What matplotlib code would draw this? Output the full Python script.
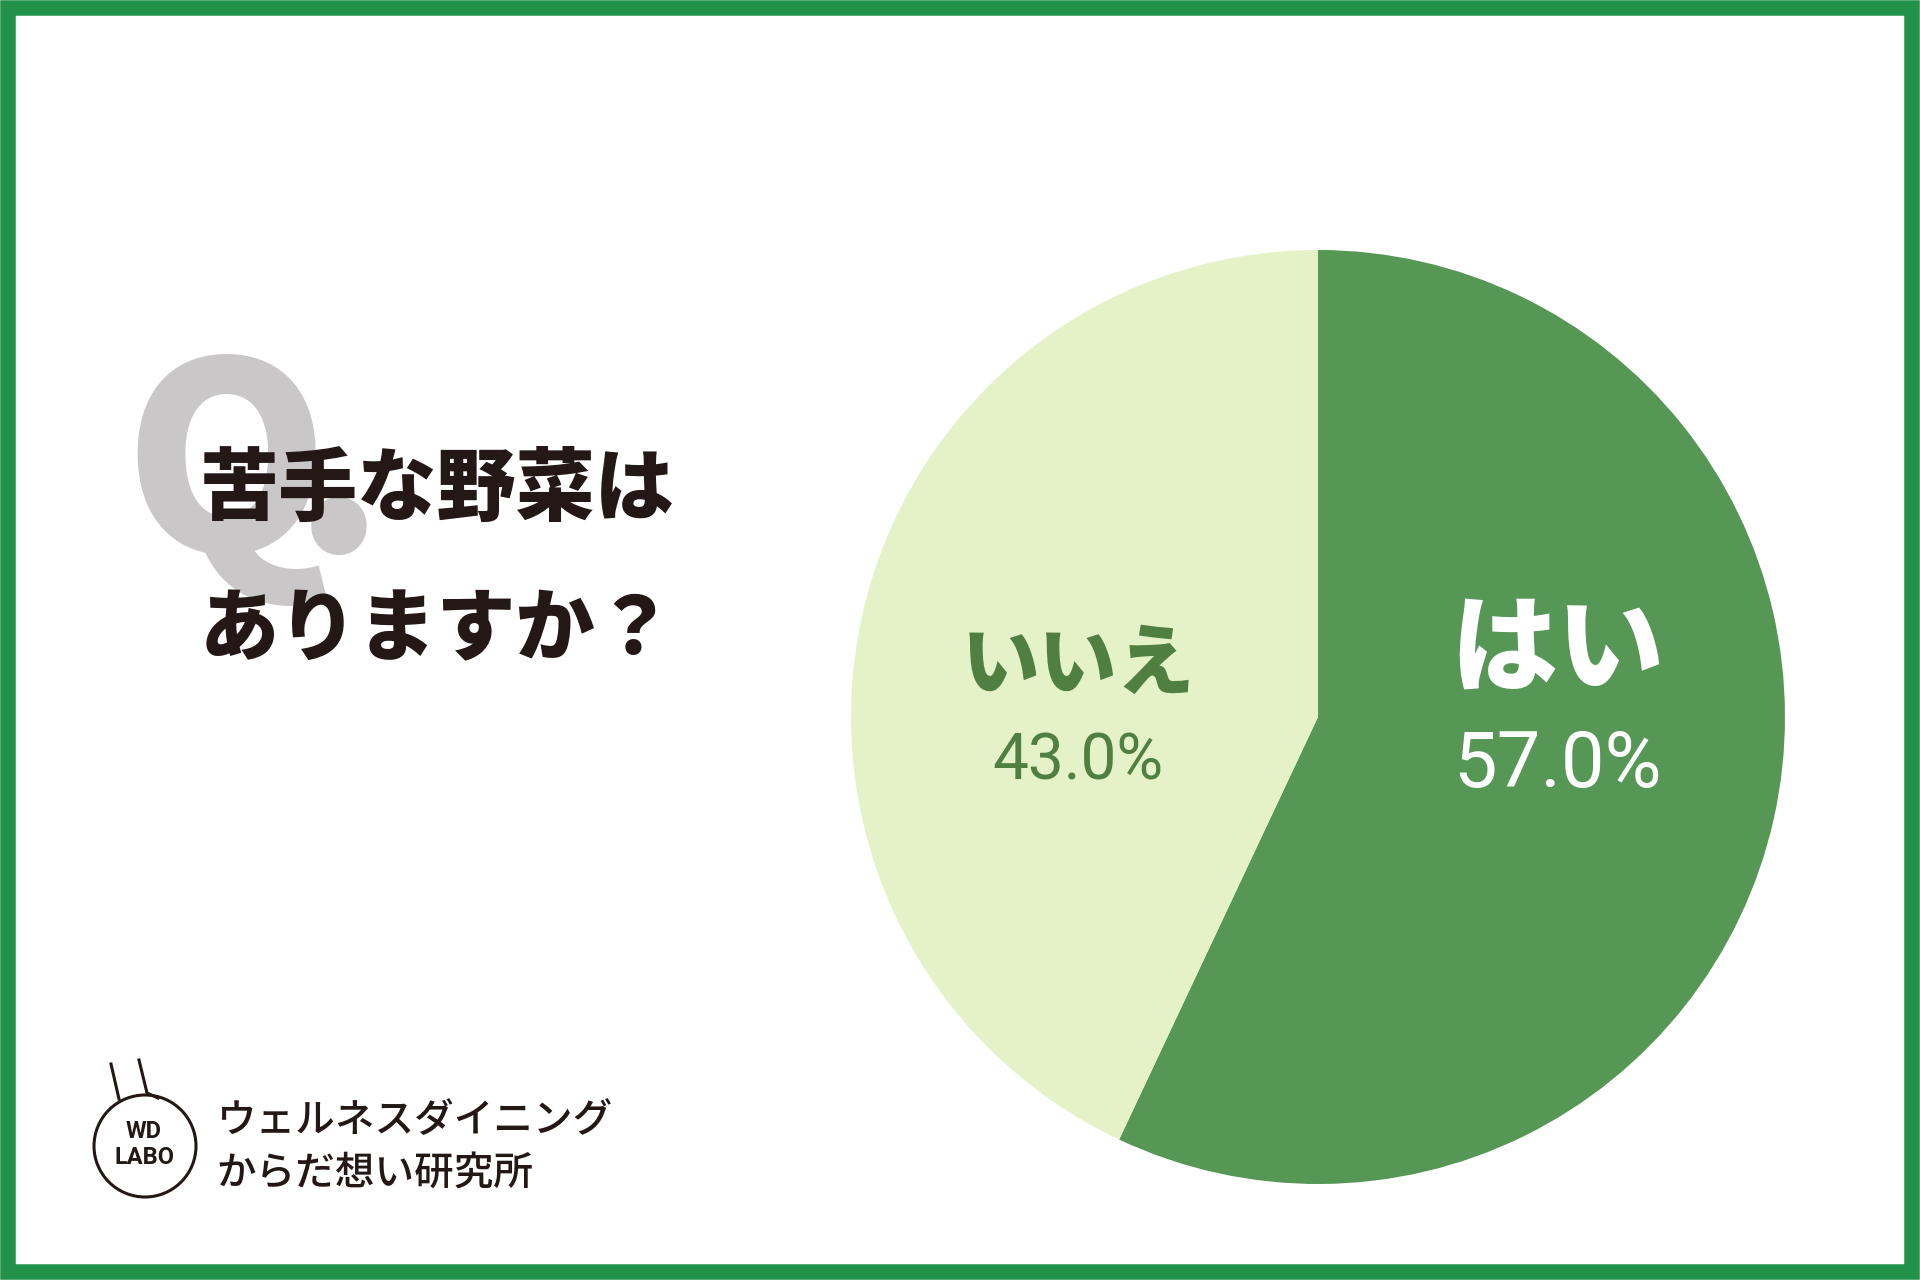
import matplotlib
matplotlib.use("Agg")
import matplotlib.pyplot as plt
from matplotlib.patches import Rectangle, Circle
from matplotlib.lines import Line2D

plt.rcParams['font.family'] = ['Noto Sans CJK JP', 'DejaVu Sans']

# Data
categories = ["はい", "いいえ"]
values = [57.0, 43.0]
colors = ["#569756", "#E5F2C7"]
label_colors = ["#FFFFFF", "#4F8041"]
title_lines = ["苦手な野菜は", "ありますか？"]
brand_lines = ["ウェルネスダイニング", "からだ想い研究所"]

W, H = 1920, 1280
fig = plt.figure(figsize=(W / 100, H / 100), dpi=100)
fig.patch.set_facecolor("white")

def fx(x):
    return x / W

def fy(y):
    return 1 - y / H

# full-figure drawing axes in pixel coordinates
bg = fig.add_axes([0, 0, 1, 1], facecolor="none", zorder=0)
bg.set_xlim(0, W)
bg.set_ylim(H, 0)
bg.set_axis_off()
border = 15.5
bg.add_patch(Rectangle((border / 2, border / 2), W - border, H - border,
                       facecolor="none", edgecolor="#229149",
                       linewidth=border * 0.72, joinstyle="miter"))

# Pie
cx, cy, r = 1318, 717, 467
ax = fig.add_axes([fx(cx - r), fy(cy + r), 2 * r / W, 2 * r / H], zorder=1)
ax.pie(values, colors=colors, startangle=90, counterclock=False, radius=1,
       wedgeprops=dict(linewidth=0))
ax.set_xlim(-1, 1)
ax.set_ylim(-1, 1)
ax.set_axis_off()

# Pie labels
label_pos = [(1557, 651, 1557, 766), (1078, 666, 1078, 761)]
label_sizes = [(77, 56), (56, 46)]
for cat, val, col, (lx, ly, px, py), (s1, s2) in zip(categories, values, label_colors, label_pos, label_sizes):
    fig.text(fx(lx), fy(ly), cat, color=col, fontsize=s1, fontweight="black",
             ha="center", va="center", zorder=5)
    fig.text(fx(px), fy(py), f"{val:.1f}%", color=col, fontsize=s2,
             family=["Roboto", "DejaVu Sans"],
             ha="center", va="center", zorder=5)

# Big Q.
fig.text(fx(123), fy(551), "Q", color="#C9C7C7", fontsize=188, fontweight="black",
         family=["Noto Sans CJK JP", "DejaVu Sans"], ha="left", va="baseline", zorder=3)
fig.text(fx(339), fy(551), ".", color="#C9C7C7", fontsize=188, fontweight="black",
         family=["Noto Sans CJK JP", "DejaVu Sans"], ha="center", va="baseline", zorder=3)

# Title
for i, line in enumerate(title_lines):
    fig.text(fx(200), fy(490 + i * 141), line, color="#231815", fontsize=57,
             fontweight="black", ha="left", va="center", zorder=4)

# Logo
lg = fig.add_axes([0, 0, 1, 1], facecolor="none", zorder=2)
lg.set_xlim(0, W)
lg.set_ylim(H, 0)
lg.set_axis_off()
lg.add_patch(Circle((145, 1146), 51, facecolor="white", edgecolor="#231815", linewidth=2.2))
lg.add_line(Line2D([111, 119], [1064, 1099], color="#231815", linewidth=2.2))
lg.add_line(Line2D([139, 147, 158], [1060, 1093, 1098], color="#231815", linewidth=2.2))
lg.text(144, 1131, "WD", color="#231815", fontsize=17, fontweight="bold",
        family=["Roboto", "DejaVu Sans"], ha="center", va="center")
lg.text(144, 1158, "LABO", color="#231815", fontsize=17, fontweight="bold",
        family=["Roboto", "DejaVu Sans"], ha="center", va="center")
for i, line in enumerate(brand_lines):
    fig.text(fx(216), fy(1121 + i * 53), line, color="#231815", fontsize=28.5,
             fontweight="medium", ha="left", va="center", zorder=5)

fig.savefig("out.png", dpi=100, facecolor=fig.get_facecolor())
